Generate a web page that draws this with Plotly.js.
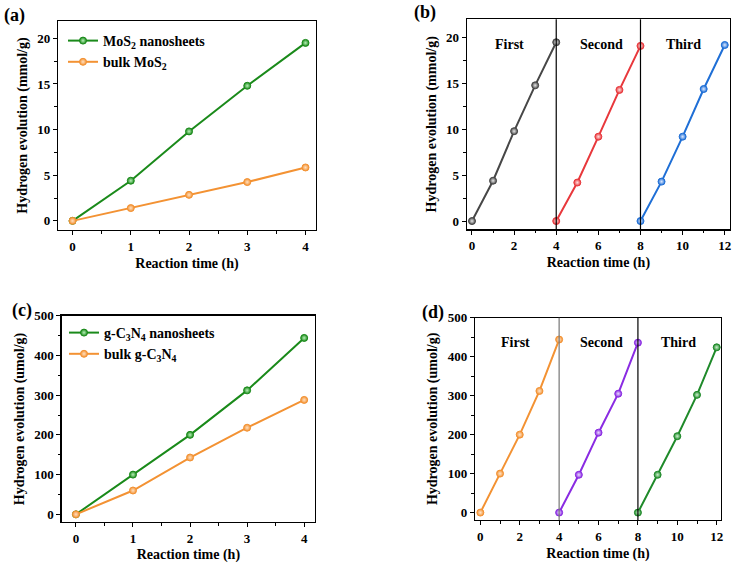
<!DOCTYPE html>
<html><head><meta charset="utf-8">
<script src="https://cdn.plot.ly/plotly-3.0.1.min.js"></script>
<style>html,body{margin:0;padding:0;background:#fff}</style>
</head><body><div id="chart" style="width:735px;height:563px"></div>
<script>
// ---- data ----
const timeA = [0, 1, 2, 3, 4];
const mos2Nano = [0, 4.4, 9.8, 14.8, 19.5];
const mos2Bulk = [0, 1.4, 2.85, 4.25, 5.85];

const cycle1X = [0, 1, 2, 3, 4];
const cycle2X = [4, 5, 6, 7, 8];
const cycle3X = [8, 9, 10, 11, 12];
const mos2Cycle1 = [0, 4.4, 9.8, 14.8, 19.5];
const mos2Cycle2 = [0, 4.2, 9.2, 14.3, 19.1];
const mos2Cycle3 = [0, 4.3, 9.2, 14.4, 19.2];

const c3n4Nano = [0, 100, 200, 312, 444];
const c3n4Bulk = [0, 60, 143, 218, 288];

const c3n4Cycle1 = [0, 100, 200, 312, 444];
const c3n4Cycle2 = [0, 97, 205, 305, 436];
const c3n4Cycle3 = [0, 97, 196, 302, 424];

const cycleLabels = ['First', 'Second', 'Third'];
const cycleLabelX = [1.8, 6.15, 10.05];
const dividers = [4, 8];

const FONT = 'Liberation Serif, Times New Roman, serif';

function line(x, y, color, light, xa, ya, name, legend, show) {
  return {
    x: x, y: y, xaxis: xa, yaxis: ya, type: 'scatter', mode: 'lines+markers',
    name: name, legend: legend, showlegend: !!show,
    line: {color: color, width: 2},
    marker: {size: 7, color: color, gradient: {type: 'radial', color: light},
             line: {color: color, width: 1}}
  };
}

const data = [
  line(timeA, mos2Nano, '#1a8a1a', '#b8f0b8', 'x', 'y', 'MoS<sub>2</sub> nanosheets', 'legend', true),
  line(timeA, mos2Bulk, '#f39233', '#ffe0c0', 'x', 'y', 'bulk MoS<sub>2</sub>', 'legend', true),
  line(cycle1X, mos2Cycle1, '#474747', '#e8e8e8', 'x2', 'y2'),
  line(cycle2X, mos2Cycle2, '#e8383c', '#ffe0e0', 'x2', 'y2'),
  line(cycle3X, mos2Cycle3, '#1f6fd6', '#dde9ff', 'x2', 'y2'),
  line(timeA, c3n4Nano, '#1a8a1a', '#b8f0b8', 'x3', 'y3', 'g-C<sub>3</sub>N<sub>4</sub> nanosheets', 'legend2', true),
  line(timeA, c3n4Bulk, '#f39233', '#ffe0c0', 'x3', 'y3', 'bulk g-C<sub>3</sub>N<sub>4</sub>', 'legend2', true),
  line(cycle1X, c3n4Cycle1, '#f39233', '#ffe6cc', 'x4', 'y4'),
  line(cycle2X, c3n4Cycle2, '#8a2be2', '#eadcff', 'x4', 'y4'),
  line(cycle3X, c3n4Cycle3, '#1f8a2a', '#d0f0d0', 'x4', 'y4')
];

const tickfont = {family: FONT, size: 13, color: '#000', weight: 'bold'};
const titlefont = {family: FONT, size: 14, color: '#000', weight: 'bold'};

function xax(domain, range, dtick, minor, anchor) {
  return {domain: domain, range: range, anchor: anchor, dtick: dtick, tick0: 0,
    showgrid: false, zeroline: false, showline: true, mirror: true, linecolor: '#000', linewidth: 1.2,
    ticks: 'outside', ticklen: 4, tickwidth: 1, tickcolor: '#000', tickfont: tickfont,
    minor: {dtick: minor, tick0: 0, ticks: 'outside', ticklen: 2.5, tickcolor: '#000', showgrid: false},
    title: {text: 'Reaction time (h)', font: titlefont, standoff: 5}};
}
function yax(domain, range, dtick, minor, anchor, title) {
  return {domain: domain, range: range, anchor: anchor, dtick: dtick, tick0: 0,
    showgrid: false, zeroline: false, showline: true, mirror: true, linecolor: '#000', linewidth: 1.2,
    ticks: 'outside', ticklen: 4, tickwidth: 1, tickcolor: '#000', tickfont: tickfont,
    minor: {dtick: minor, tick0: 0, ticks: 'outside', ticklen: 2.5, tickcolor: '#000', showgrid: false},
    title: {text: title, font: titlefont, standoff: 6}};
}

const annotations = [];
const panelLabels = [['(a)', 15, 16], ['(b)', 425, 13], ['(c)', 22, 310], ['(d)', 433, 312]];
panelLabels.forEach(p => annotations.push({
  text: p[0], xref: 'paper', yref: 'paper', x: p[1] / 735, y: 1 - p[2] / 563,
  xanchor: 'center', yanchor: 'middle', showarrow: false,
  font: {family: FONT, size: 18, color: '#000', weight: 'bold'}
}));
cycleLabels.forEach((t, i) => {
  annotations.push({text: t, xref: 'x2', yref: 'y2', x: cycleLabelX[i], y: 19.3, showarrow: false,
    font: {family: FONT, size: 14, color: '#000', weight: 'bold'}});
  annotations.push({text: t, xref: 'x4', yref: 'y4', x: cycleLabelX[i], y: 436, showarrow: false,
    font: {family: FONT, size: 14, color: '#000', weight: 'bold'}});
});

const shapes = [];
dividers.forEach((d, i) => {
  shapes.push({type: 'line', xref: 'x2', yref: 'y2 domain', x0: d, x1: d, y0: 0, y1: 1,
    line: {color: '#000', width: 1.2}});
  shapes.push({type: 'line', xref: 'x4', yref: 'y4 domain', x0: d, x1: d, y0: 0, y1: 1,
    line: {color: i === 0 ? '#777' : '#000', width: 1.2}});
});

const legendFont = {family: FONT, size: 14, color: '#000', weight: 'bold'};
const layout = {
  width: 735, height: 563, margin: {l: 0, r: 0, t: 0, b: 0},
  paper_bgcolor: '#fff', plot_bgcolor: '#fff', showlegend: true,
  font: {family: FONT},
  xaxis: xax([0.0789, 0.4299], [-0.25, 4.18], 1, 0.5, 'y'),
  yaxis: yax([0.5915, 0.9627], [-1, 21.9], 5, 2.5, 'x', 'Hydrogen evolution (mmol/g)'),
  xaxis2: xax([0.635, 0.9932], [-0.25, 12.25], 2, 1, 'y2'),
  yaxis2: yax([0.5927, 0.9657], [-0.9, 22], 5, 2.5, 'x2', 'Hydrogen evolution (mmol/g)'),
  xaxis3: xax([0.0839, 0.4286], [-0.25, 4.19], 1, 0.5, 'y3'),
  yaxis3: yax([0.0723, 0.4393], [-20, 500], 100, 50, 'x3', 'Hydrogen evolution (umol/g)'),
  xaxis4: xax([0.6463, 0.981], [-0.27, 12.22], 2, 1, 'y4'),
  yaxis4: yax([0.0764, 0.4357], [-19, 500], 100, 50, 'x4', 'Hydrogen evolution (umol/g)'),
  legend: {x: 63 / 735, y: 1 - 25 / 563, xanchor: 'left', yanchor: 'top', bgcolor: 'rgba(0,0,0,0)',
    font: legendFont, tracegroupgap: 0, itemwidth: 30},
  legend2: {x: 64 / 735, y: 1 - 317 / 563, xanchor: 'left', yanchor: 'top', bgcolor: 'rgba(0,0,0,0)',
    font: legendFont, tracegroupgap: 0, itemwidth: 30},
  annotations: annotations, shapes: shapes
};

Plotly.newPlot('chart', data, layout, {displayModeBar: false, staticPlot: true});
</script></body></html>
